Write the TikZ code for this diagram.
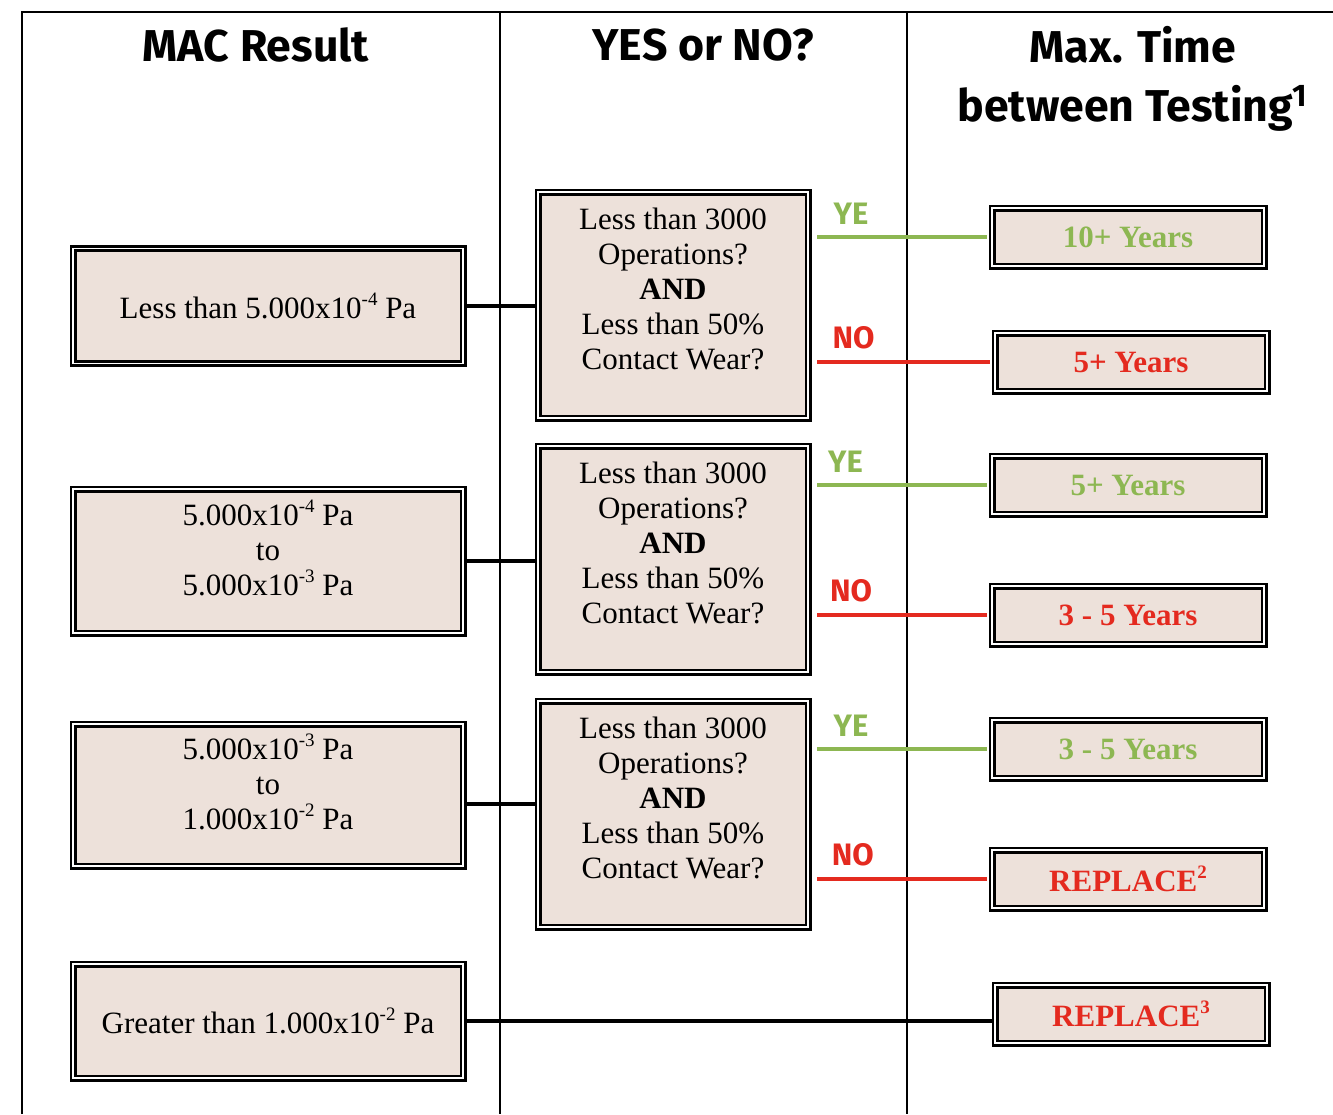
\documentclass[tikz,border=0pt]{standalone}
\usepackage{fontspec}
\setmainfont{Liberation Serif}
\newfontfamily\headfont{Fira Sans}
\usepackage{tikz}
\usetikzlibrary{positioning}
\definecolor{boxfill}{HTML}{EDE1DA}
\definecolor{yesgreen}{HTML}{8DB752}
\definecolor{nored}{HTML}{E42A1F}
\tikzset{
  dbox/.style={draw=black,line width=1.3pt,double=white,double distance=0.9pt,
               fill=boxfill,align=center,inner sep=0pt,
               font=\fontsize{15.5}{17.5}\selectfont},
  macbox/.style={dbox,minimum width=195pt},
  askbox/.style={dbox,minimum width=135pt,minimum height=113pt,text depth=16pt},
  resbox/.style={dbox,minimum width=136pt,minimum height=29pt,
                 font=\fontsize{15.5}{17.5}\selectfont\bfseries},
  head/.style={font=\headfont\bfseries\fontsize{22.3}{26}\selectfont},
  tag/.style={font=\headfont\bfseries\fontsize{15.5}{17}\selectfont,inner sep=5.5pt},
  rule/.style={line width=1pt},
  link/.style={line width=2pt},
  yeslink/.style={link,yesgreen,shorten <=4pt,shorten >=2pt},
  nolink/.style={link,nored,shorten <=4pt,shorten >=2pt},
}
\newcommand{\pw}[1]{\raisebox{0.42em}{\fontsize{9.5}{9.5}\selectfont#1}}
\begin{document}
\begin{tikzpicture}[x=0.5pt,y=-0.5pt]
  \useasboundingbox (0,0) rectangle (1333,1114);
  % frame and columns
  \draw[rule] (22,1114) -- (22,12) -- (1333,12);
  \draw[rule] (500,12) -- (500,1114);
  \draw[rule] (907,12) -- (907,1114);
  \node[head] (hmac) at (256,45) {MAC Result};
  \node[head] (hyn) at (703,45) {YES or NO?};
  \node[head] (htime) at (1133,45) {Max. Time};
  \node[head] (htest) at (1133,108) {between Testing\textsuperscript{1}};
  % MAC results
  \node[macbox,minimum height=57.5pt] (mac1) at (268,306)
    {Less than 5.000x10\pw{-4} Pa};
  \node[macbox,minimum height=72pt,text depth=13pt] (mac2) at (268,561)
    {5.000x10\pw{-4} Pa\\to\\5.000x10\pw{-3} Pa};
  \node[macbox,minimum height=71pt,text depth=13pt] (mac3) at (268,795)
    {5.000x10\pw{-3} Pa\\to\\1.000x10\pw{-2} Pa};
  \node[macbox,minimum height=57pt] (mac4) at (268,1021)
    {Greater than 1.000x10\pw{-2} Pa};
  % questions
  \node[askbox] (ask1) at (673,305)
    {Less than 3000\\Operations?\\\textbf{AND}\\Less than 50\%\\Contact Wear?};
  \node[askbox] (ask2) at (673,559)
    {Less than 3000\\Operations?\\\textbf{AND}\\Less than 50\%\\Contact Wear?};
  \node[askbox] (ask3) at (673,814)
    {Less than 3000\\Operations?\\\textbf{AND}\\Less than 50\%\\Contact Wear?};
  % max. time
  \node[resbox,text=yesgreen] (res1) at (1128,237) {10+ Years};
  \node[resbox,text=nored] (res2) at (1131,362) {5+ Years};
  \node[resbox,text=yesgreen] (res3) at (1128,485) {5+ Years};
  \node[resbox,text=nored] (res4) at (1128,615) {3 - 5 Years};
  \node[resbox,text=yesgreen] (res5) at (1128,749) {3 - 5 Years};
  \node[resbox,text=nored] (res6) at (1128,879) {REPLACE\pw{2}};
  \node[resbox,text=nored] (res7) at (1131,1014) {REPLACE\pw{3}};
  % connectors
  \draw[link] (mac1.east) -- (mac1.east -| ask1.west);
  \draw[link] (mac2.east) -- (mac2.east -| ask2.west);
  \draw[link] ([yshift=-4.5pt]mac3.east) -- ([yshift=-4.5pt]mac3.east -| ask3.west);
  \draw[link] (mac4.east) -- (mac4.east -| res7.west);
  \draw[yeslink] (ask1.east |- res1.west) -- node[tag,above,pos=0.23] (yes1) {YE} (res1.west);
  \draw[nolink] (ask1.east |- res2.west) -- node[tag,above,pos=0.24] (no1) {NO} (res2.west);
  \draw[yeslink] (ask2.east |- res3.west) -- node[tag,above,pos=0.2] (yes2) {YE} (res3.west);
  \draw[nolink] (ask2.east |- res4.west) -- node[tag,above,pos=0.23] (no2) {NO} (res4.west);
  \draw[yeslink] (ask3.east |- res5.west) -- node[tag,above,pos=0.23] (yes3) {YE} (res5.west);
  \draw[nolink] (ask3.east |- res6.west) -- node[tag,above,pos=0.24] (no3) {NO} (res6.west);
\end{tikzpicture}
\end{document}
